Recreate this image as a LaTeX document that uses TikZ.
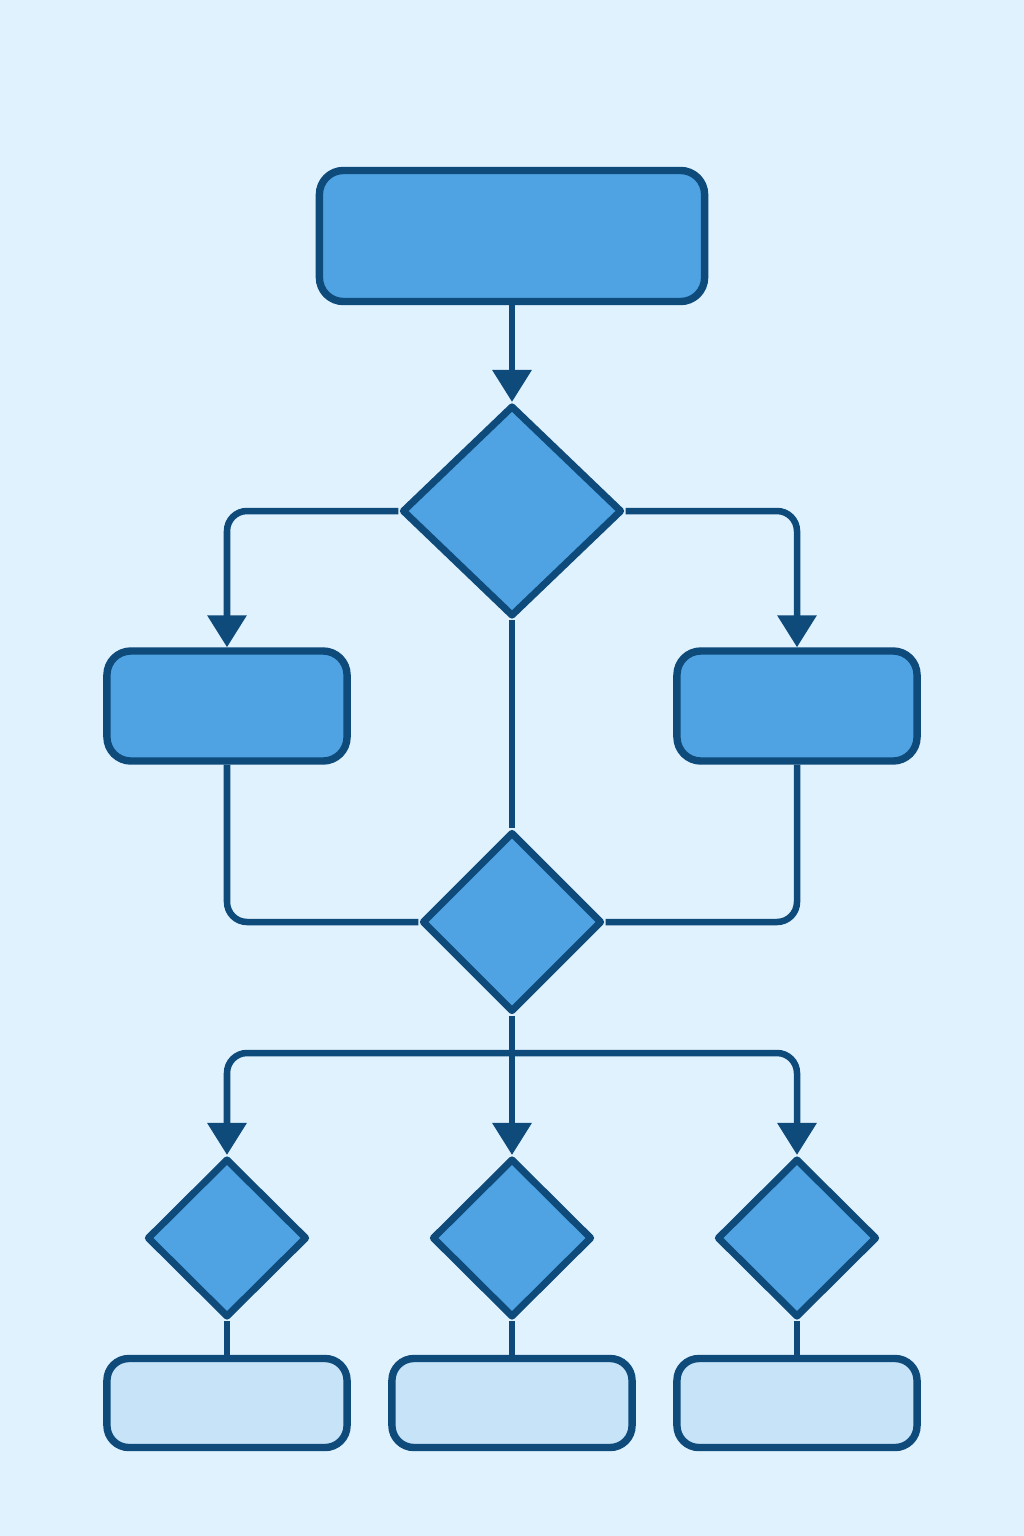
\documentclass[tikz,border=0pt]{standalone}
\usetikzlibrary{shapes.geometric,arrows.meta}
\definecolor{bgc}{HTML}{E0F2FD}
\definecolor{edgec}{HTML}{0E4A7A}
\definecolor{fillc}{HTML}{4FA3E3}
\definecolor{lightc}{HTML}{C6E3F7}
\tikzset{
  box/.style={draw=edgec, fill=fillc, line width=2.1pt, rounded corners=0.24cm, inner sep=0pt},
  lbox/.style={box, fill=lightc, rounded corners=0.22cm},
  dia/.style={draw=edgec, fill=fillc, line width=2.0pt, diamond, inner sep=0pt, line join=round},
  conn/.style={draw=edgec, line width=1.85pt},
  arr/.style={conn, -{Triangle[width=0.38cm,length=0.32cm]}},
}
\begin{document}
\begin{tikzpicture}[x=0.01cm,y=-0.01cm]
\useasboundingbox[fill=bgc] (0,0) rectangle (1024,1536);
% nodes
\node[box, minimum width=3.85cm, minimum height=1.31cm] (top) at (512,236) {};
\node[dia, minimum width=2.20cm, minimum height=2.11cm] (d1) at (512,511) {};
\node[box, minimum width=2.40cm, minimum height=1.10cm] (bl) at (227,706) {};
\node[box, minimum width=2.40cm, minimum height=1.10cm] (br) at (797,706) {};
\node[dia, minimum width=1.80cm, minimum height=1.80cm] (d2) at (512,922) {};
\node[dia, minimum width=1.60cm, minimum height=1.59cm] (s1) at (227,1238) {};
\node[dia, minimum width=1.60cm, minimum height=1.59cm] (s2) at (512,1238) {};
\node[dia, minimum width=1.60cm, minimum height=1.59cm] (s3) at (797,1238) {};
\node[lbox, minimum width=2.40cm, minimum height=0.89cm] (e1) at (227,1403) {};
\node[lbox, minimum width=2.40cm, minimum height=0.89cm] (e2) at (512,1403) {};
\node[lbox, minimum width=2.40cm, minimum height=0.89cm] (e3) at (797,1403) {};
\coordinate (j) at (512,1053);
% connectors
\draw[arr] (top.south) -- (d1.north);
\draw[arr, rounded corners=0.2cm] (d1.west) -| (bl.north);
\draw[arr, rounded corners=0.2cm] (d1.east) -| (br.north);
\draw[conn] (d1.south) -- (d2.north);
\draw[conn, rounded corners=0.2cm] (bl.south) |- (d2.west);
\draw[conn, rounded corners=0.2cm] (br.south) |- (d2.east);
\draw[conn] (d2.south) -- (j);
\draw[arr, rounded corners=0.2cm] (j) -| (s1.north);
\draw[arr] (j) -- (s2.north);
\draw[arr, rounded corners=0.2cm] (j) -| (s3.north);
\draw[conn] (s1.south) -- (e1.north);
\draw[conn] (s2.south) -- (e2.north);
\draw[conn] (s3.south) -- (e3.north);
\end{tikzpicture}
\end{document}
